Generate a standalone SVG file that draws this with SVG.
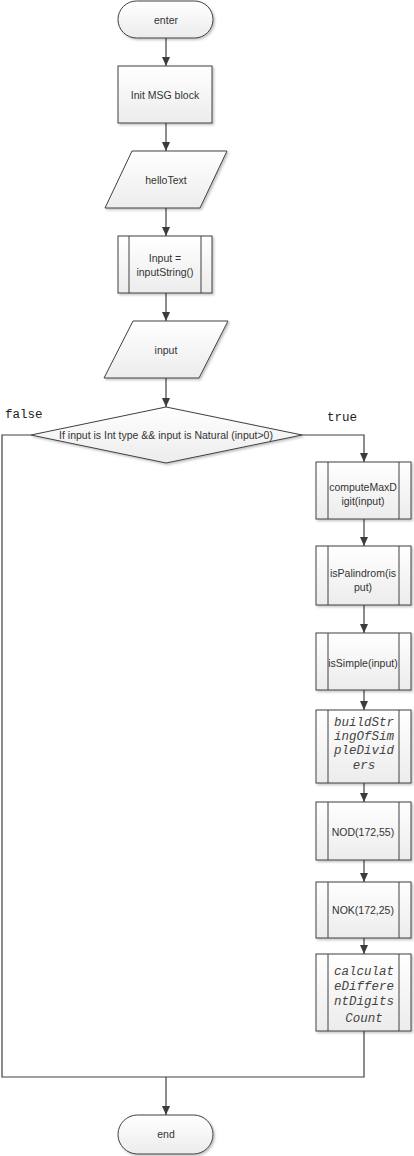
<svg xmlns="http://www.w3.org/2000/svg" width="414" height="1156" viewBox="0 0 414 1156">
<defs>
<linearGradient id="g" x1="0" y1="0" x2="0" y2="1">
<stop offset="0" stop-color="#ffffff"/>
<stop offset="1" stop-color="#ececec"/>
</linearGradient>
<filter id="sh" x="-10%" y="-10%" width="130%" height="140%">
<feDropShadow dx="1.5" dy="1.5" stdDeviation="1.2" flood-color="#000" flood-opacity="0.25"/>
</filter>
<marker id="ah" markerWidth="10" markerHeight="10" refX="9" refY="5" orient="auto" markerUnits="userSpaceOnUse">
<path d="M0,1 L9,5 L0,9 Z" fill="#3c3c3c"/>
</marker>
</defs>
<style>
.s{fill:url(#g);stroke:#404040;stroke-width:1;filter:url(#sh)}
.l{fill:none;stroke:#404040;stroke-width:1}
.c{stroke:#404040;stroke-width:1.2;fill:none}
.t{font-family:"Liberation Sans",Arial,sans-serif;font-size:10.5px;fill:#333;text-anchor:middle;dominant-baseline:central}
.m{font-family:"Liberation Mono","Courier New",monospace;font-size:12.5px;fill:#444;text-anchor:middle;dominant-baseline:central;font-style:italic}
.lb{font-family:"Liberation Mono","Courier New",monospace;font-size:12.5px;fill:#222;dominant-baseline:central}
</style>
<rect width="414" height="1156" fill="#fff"/>
<g id="connectors">
<path class="c" d="M166,38 V66" marker-end="url(#ah)"/>
<path class="c" d="M166,123 V151" marker-end="url(#ah)"/>
<path class="c" d="M166,208 V236" marker-end="url(#ah)"/>
<path class="c" d="M166,293 V321" marker-end="url(#ah)"/>
<path class="c" d="M166,378 V407" marker-end="url(#ah)"/>
<path class="c" d="M302,435 H364 V462" marker-end="url(#ah)"/>
<path class="c" d="M364,519 V546" marker-end="url(#ah)"/>
<path class="c" d="M364,605 V633" marker-end="url(#ah)"/>
<path class="c" d="M364,690 V710" marker-end="url(#ah)"/>
<path class="c" d="M364,783 V802" marker-end="url(#ah)"/>
<path class="c" d="M364,860 V882" marker-end="url(#ah)"/>
<path class="c" d="M364,938 V954" marker-end="url(#ah)"/>
<path class="c" d="M31,435 H2 V1077 H364 V1031"/>
<path class="c" d="M166,1077 V1115" marker-end="url(#ah)"/>
<text class="lb" x="5" y="415">false</text>
<text class="lb" x="327" y="418">true</text>
</g>
<g id="enter">
<rect class="s" x="118" y="1" width="95" height="37" rx="18.5"/>
<text class="t" x="166" y="20">enter</text>
</g>
<g id="init">
<rect class="s" x="118" y="66" width="94" height="57"/>
<text class="t" x="165" y="95">Init MSG block</text>
</g>
<g id="hello">
<polygon class="s" points="132,151 227,151 200,208 105,208"/>
<text class="t" x="166" y="180">helloText</text>
</g>
<g id="inputString">
<rect class="s" x="118" y="236" width="94" height="57"/>
<path class="l" d="M129,236 V293 M201,236 V293"/>
<text class="t" x="165" y="258">Input =</text>
<text class="t" x="165" y="272">inputString()</text>
</g>
<g id="inputIO">
<polygon class="s" points="133,321 228,321 199,378 104,378"/>
<text class="t" x="166" y="350">input</text>
</g>
<g id="decision">
<polygon class="s" points="166,407 302,435 166,463 31,435"/>
<text class="t" x="166" y="435">If input is Int type &amp;&amp; input is Natural (input&gt;0)</text>
</g>
<g id="computeMaxDigit">
<rect class="s" x="316" y="462" width="95" height="57"/>
<path class="l" d="M328,462 V519 M399,462 V519"/>
<text class="t" x="363" y="487">computeMaxD</text>
<text class="t" x="363" y="501">igit(input)</text>
</g>
<g id="isPalindrom">
<rect class="s" x="316" y="546" width="95" height="59"/>
<path class="l" d="M328,546 V605 M399,546 V605"/>
<text class="t" x="363" y="573">isPalindrom(is</text>
<text class="t" x="363" y="587">put)</text>
</g>
<g id="isSimple">
<rect class="s" x="316" y="633" width="95" height="57"/>
<path class="l" d="M328,633 V690 M399,633 V690"/>
<text class="t" x="363" y="663">isSimple(input)</text>
</g>
<g id="buildString">
<rect class="s" x="316" y="710" width="95" height="73"/>
<path class="l" d="M328,710 V783 M399,710 V783"/>
<text class="m" x="364" y="723">buildStr</text>
<text class="m" x="364" y="737">ingOfSim</text>
<text class="m" x="364" y="751">pleDivid</text>
<text class="m" x="364" y="766">ers</text>
</g>
<g id="nod">
<rect class="s" x="316" y="802" width="95" height="58"/>
<path class="l" d="M328,802 V860 M399,802 V860"/>
<text class="t" x="363" y="832">NOD(172,55)</text>
</g>
<g id="nok">
<rect class="s" x="316" y="882" width="95" height="56"/>
<path class="l" d="M328,882 V938 M399,882 V938"/>
<text class="t" x="363" y="910">NOK(172,25)</text>
</g>
<g id="calculate">
<rect class="s" x="316" y="954" width="95" height="77"/>
<path class="l" d="M328,954 V1031 M399,954 V1031"/>
<text class="m" x="364" y="972">calculat</text>
<text class="m" x="364" y="987">eDiffere</text>
<text class="m" x="364" y="1002">ntDigits</text>
<text class="m" x="364" y="1019">Count</text>
</g>
<g id="end">
<rect class="s" x="118" y="1115" width="95" height="39" rx="19.5"/>
<text class="t" x="166" y="1134">end</text>
</g>
</svg>
